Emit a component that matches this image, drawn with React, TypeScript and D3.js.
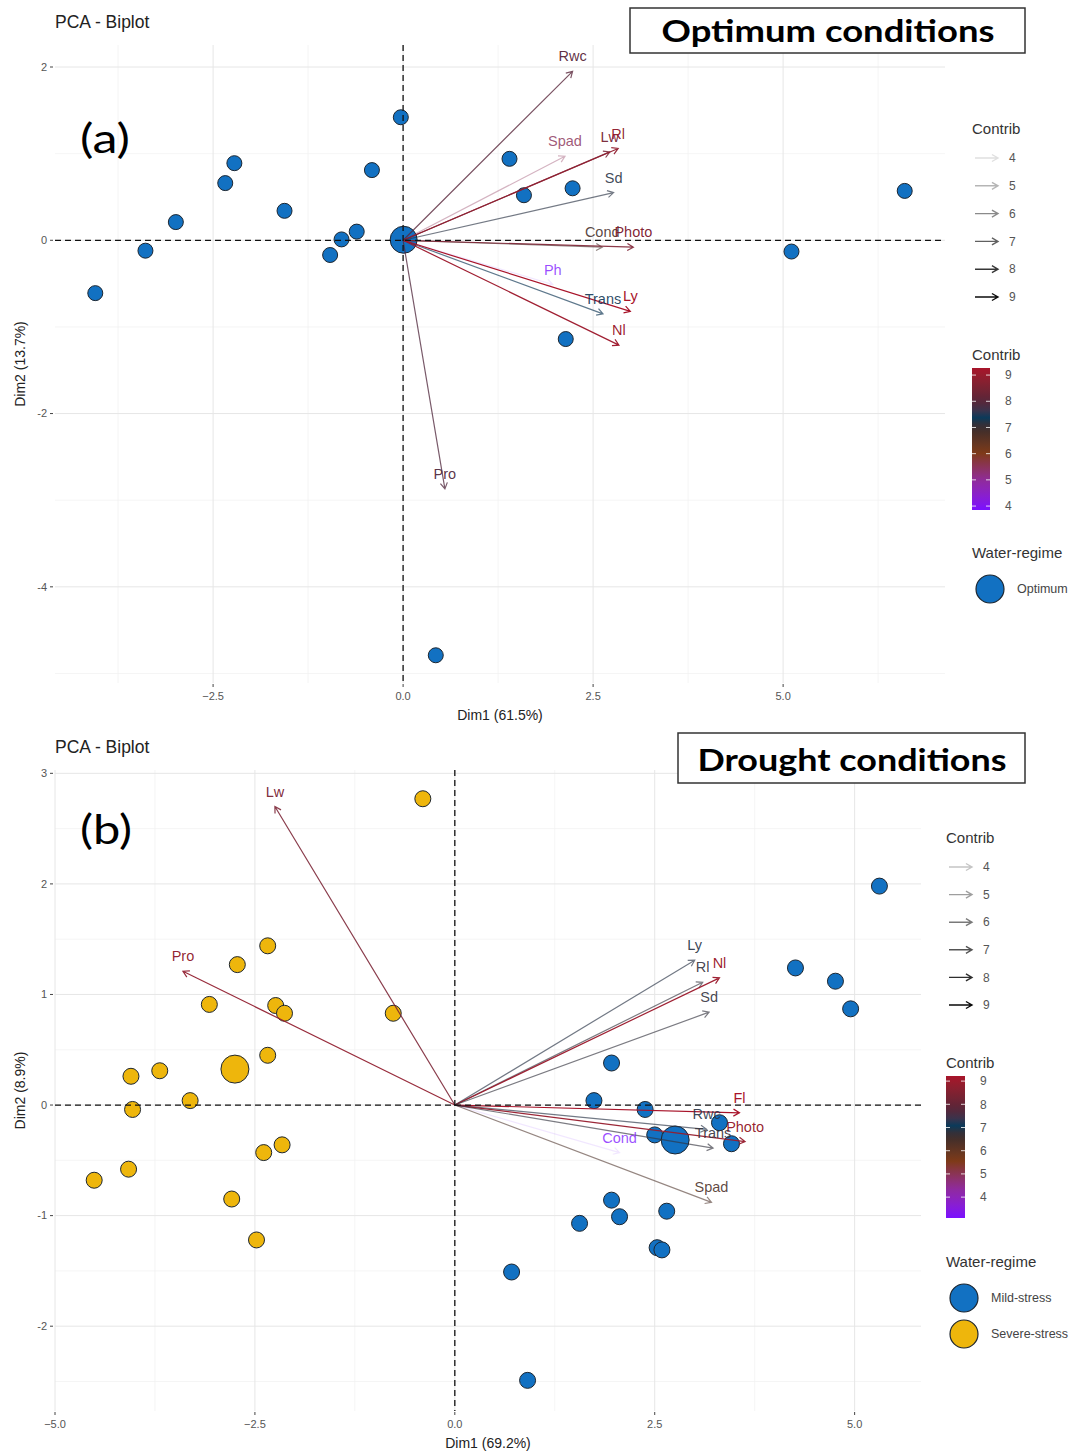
import React from "react";
import * as d3 from "d3";

const FONT = "'Liberation Sans', Arial, Helvetica, sans-serif";
const BOX_FONT = "Lato, 'Open Sans', 'DejaVu Sans', sans-serif";

// ---- (a) optimum conditions ----
const optIndDim1 = [-4.05, -3.39, -2.99, -2.34, -2.22, -1.56, -0.96, -0.81, -0.61, -0.41, -0.03, 1.4, 1.59, 2.23, 2.14, 5.11, 6.6, 0.43];
const optIndDim2 = [-0.61, -0.12, 0.21, 0.66, 0.89, 0.34, -0.17, 0.01, 0.1, 0.81, 1.42, 0.94, 0.52, 0.6, -1.14, -0.13, 0.57, -4.79];
const optVarNames = ["Rwc", "Spad", "Lw", "Rl", "Sd", "Cond", "Photo", "Ph", "Trans", "Ly", "Nl", "Pro"];
const optVarDim1 = [2.23, 2.13, 2.72, 2.83, 2.77, 2.62, 3.03, 1.97, 2.63, 2.99, 2.84, 0.55];
const optVarDim2 = [1.95, 0.97, 1.02, 1.06, 0.55, -0.08, -0.08, -0.51, -0.85, -0.82, -1.21, -2.87];
const optVarContrib = [8.0, 5.5, 8.45, 8.9, 7.2, 6.85, 8.6, 3.85, 7.35, 9.27, 9.1, 7.9];

// ---- (b) drought conditions ----
const mildIndDim1 = [5.31, 4.26, 4.76, 4.95, 1.96, 1.74, 2.38, 3.31, 2.5, 3.46, 1.96, 2.06, 2.65, 1.56, 2.53, 2.59, 0.71, 0.91];
const mildIndDim2 = [1.98, 1.24, 1.12, 0.87, 0.38, 0.04, -0.04, -0.16, -0.27, -0.35, -0.86, -1.01, -0.96, -1.07, -1.29, -1.31, -1.51, -2.49];
const severeIndDim1 = [-0.4, -2.34, -2.72, -3.07, -2.24, -2.13, -0.77, -4.05, -3.69, -4.03, -3.31, -2.34, -4.51, -4.08, -2.39, -2.16, -2.79, -2.48];
const severeIndDim2 = [2.77, 1.44, 1.27, 0.91, 0.9, 0.83, 0.83, 0.26, 0.31, -0.04, 0.04, 0.45, -0.68, -0.58, -0.43, -0.36, -0.85, -1.22];
const drVarNames = ["Lw", "Pro", "Ly", "Rl", "Nl", "Sd", "Fl", "Rwc", "Photo", "Trans", "Cond", "Spad"];
const drVarDim1 = [-2.25, -3.4, 3.0, 3.1, 3.31, 3.18, 3.56, 3.15, 3.63, 3.23, 2.06, 3.21];
const drVarDim2 = [2.7, 1.21, 1.31, 1.11, 1.15, 0.84, -0.07, -0.22, -0.33, -0.39, -0.43, -0.88];
const drVarContrib = [8.4, 8.8, 6.9, 6.8, 9.0, 6.8, 9.22, 6.9, 8.9, 6.8, 3.1, 6.4];

const contribLegend = [4, 5, 6, 7, 8, 9];
const gradStops = [0, 0.2, 0.4, 0.58, 0.65, 0.77, 1];
const gradColors = ["#7a10ff", "#8f2aa0", "#7e3a18", "#3a2c2c", "#0b3a5a", "#5a2438", "#a8142a"];

const BLUE = "#1271c2";
const YELLOW = "#eeb60c";

type Group = { name: string; fill: string; xs: number[]; ys: number[] };

function arrowD(x1: number, y1: number, x2: number, y2: number, len = 7) {
  const a = Math.atan2(y2 - y1, x2 - x1);
  const h = Math.PI / 6;
  const p = d3.path();
  p.moveTo(x1, y1);
  p.lineTo(x2, y2);
  p.moveTo(x2 - len * Math.cos(a - h), y2 - len * Math.sin(a - h));
  p.lineTo(x2, y2);
  p.lineTo(x2 - len * Math.cos(a + h), y2 - len * Math.sin(a + h));
  return p.toString();
}

function scalesFor(contrib: number[]) {
  const ext = d3.extent(contrib) as [number, number];
  const color = d3
    .scaleLinear<string>()
    .domain(gradStops.map((s) => ext[0] + s * (ext[1] - ext[0])))
    .range(gradColors)
    .interpolate(d3.interpolateLab);
  const alpha = d3.scaleLinear().domain(ext).range([0.1, 1]).clamp(true);
  return { ext, color, alpha };
}

const Biplot = (p: any) => {
  const x = d3.scaleLinear().domain(p.xDomain).range([p.left, p.right]);
  const y = d3.scaleLinear().domain(p.yDomain).range([p.bottom, p.top]);
  const { color, alpha } = scalesFor(p.varContrib);
  const fx = d3.format(".1f");
  return (
    <g fontFamily={FONT}>
      <text x={p.left} y={p.top - 17} fontSize={17.5} fill="#222">PCA - Biplot</text>
      {p.xMinor.map((v: number) => (
        <line key={"xm" + v} x1={x(v)} x2={x(v)} y1={p.top} y2={p.bottom} stroke="#f1f1f1" strokeWidth={0.7} />
      ))}
      {p.yMinor.map((v: number) => (
        <line key={"ym" + v} y1={y(v)} y2={y(v)} x1={p.left} x2={p.right} stroke="#f1f1f1" strokeWidth={0.7} />
      ))}
      {p.xTicks.map((v: number) => (
        <g key={"xt" + v}>
          <line x1={x(v)} x2={x(v)} y1={p.top} y2={p.bottom} stroke="#e6e6e6" strokeWidth={1} />
          <line x1={x(v)} x2={x(v)} y1={p.bottom + 1} y2={p.bottom + 4} stroke="#444" strokeWidth={1} />
          <text x={x(v)} y={p.bottom + 17} fontSize={11} fill="#555" textAnchor="middle">{fx(v)}</text>
        </g>
      ))}
      {p.yTicks.map((v: number) => (
        <g key={"yt" + v}>
          <line y1={y(v)} y2={y(v)} x1={p.left} x2={p.right} stroke="#e6e6e6" strokeWidth={1} />
          <line y1={y(v)} y2={y(v)} x1={p.left - 5} x2={p.left - 2} stroke="#444" strokeWidth={1} />
          <text x={p.left - 8} y={y(v)} dy="0.35em" fontSize={11} fill="#555" textAnchor="end">{v}</text>
        </g>
      ))}
      <text x={(p.left + p.right) / 2} y={p.bottom + 37} fontSize={14} fill="#222" textAnchor="middle">{p.xLabel}</text>
      <text transform={`translate(20,${(p.top + p.bottom) / 2}) rotate(-90)`} fontSize={14} fill="#222" textAnchor="middle" dy="0.35em">{p.yLabel}</text>
      {p.groups.map((g: Group) => (
        <g key={g.name}>
          {g.xs.map((v, i) => (
            <circle key={i} cx={x(v)} cy={y(g.ys[i])} r={p.ptR} fill={g.fill} stroke="#1d2630" strokeWidth={1} />
          ))}
          <circle cx={x(d3.mean(g.xs) as number)} cy={y(d3.mean(g.ys) as number)} r={p.meanR} fill={g.fill} stroke="#1d2630" strokeWidth={1} />
        </g>
      ))}
      {p.varNames.map((n: string, i: number) => {
        const c = p.varContrib[i];
        return (
          <path key={"a" + n} d={arrowD(x(0), y(0), x(p.varX[i]), y(p.varY[i]))} fill="none" stroke={color(c)} strokeOpacity={alpha(c)} strokeWidth={1.2} />
        );
      })}
      {p.varNames.map((n: string, i: number) => {
        const c = p.varContrib[i];
        return (
          <text key={"t" + n} x={x(p.varX[i])} y={y(p.varY[i]) - 15} dy="0.35em" textAnchor="middle" fontSize={14.5} fill={color(c)} fillOpacity={0.72 + 0.28 * alpha(c)}>{n}</text>
        );
      })}
      <line x1={p.left} x2={p.right} y1={y(0)} y2={y(0)} stroke="#111" strokeWidth={1.3} strokeDasharray="6,4" />
      <line x1={x(0)} x2={x(0)} y1={p.top} y2={p.bottom} stroke="#111" strokeWidth={1.3} strokeDasharray="6,4" />
    </g>
  );
};

const Legend = (p: any) => {
  const { ext, color, alpha } = scalesFor(p.varContrib);
  const by = d3.scaleLinear().domain(ext).range([p.barBottom, p.barTop]);
  const gid = "grad" + p.id;
  const gstops = d3.range(0, 1.0001, 0.05);
  return (
    <g fontFamily={FONT}>
      <defs>
        <linearGradient id={gid} x1="0" y1="1" x2="0" y2="0">
          {gstops.map((s) => (
            <stop key={s} offset={s} stopColor={color(ext[0] + s * (ext[1] - ext[0]))} />
          ))}
        </linearGradient>
      </defs>
      <text x={p.x} y={p.rowStart - 24} fontSize={15} fill="#333">Contrib</text>
      {contribLegend.map((v, i) => {
        const yy = p.rowStart + i * p.rowStep;
        return (
          <g key={"l" + v}>
            <path d={arrowD(p.x + 3, yy, p.x + 26, yy, 7)} fill="none" stroke="#000" strokeOpacity={alpha(v)} strokeWidth={1.4} />
            <text x={p.x + 37} y={yy} dy="0.35em" fontSize={12} fill="#555">{v}</text>
          </g>
        );
      })}
      <text x={p.x} y={p.barTop - 8} fontSize={15} fill="#333">Contrib</text>
      <rect x={p.x} y={p.barTop} width={p.barW} height={p.barBottom - p.barTop} fill={`url(#${gid})`} />
      {contribLegend.map((v) => (
        <g key={"b" + v}>
          <line x1={p.x} x2={p.x + 4} y1={by(v)} y2={by(v)} stroke="#fff" strokeWidth={1} strokeOpacity={0.8} />
          <line x1={p.x + p.barW - 4} x2={p.x + p.barW} y1={by(v)} y2={by(v)} stroke="#fff" strokeWidth={1} strokeOpacity={0.8} />
          <text x={p.x + p.barW + 15} y={by(v)} dy="0.35em" fontSize={12} fill="#555">{v}</text>
        </g>
      ))}
      <text x={p.x} y={p.waterTitle} fontSize={15} fill="#333">Water-regime</text>
      {p.groups.map((g: Group, i: number) => {
        const yy = p.waterTitle + 31 + i * 36;
        return (
          <g key={"w" + g.name}>
            <circle cx={p.x + 18} cy={yy} r={14} fill={g.fill} stroke="#1d2630" strokeWidth={1.2} />
            <text x={p.x + 45} y={yy} dy="0.35em" fontSize={12.5} fill="#444">{g.name}</text>
          </g>
        );
      })}
    </g>
  );
};

export default function App() {
  const optGroups: Group[] = [{ name: "Optimum", fill: BLUE, xs: optIndDim1, ys: optIndDim2 }];
  const drGroups: Group[] = [
    { name: "Mild-stress", fill: BLUE, xs: mildIndDim1, ys: mildIndDim2 },
    { name: "Severe-stress", fill: YELLOW, xs: severeIndDim1, ys: severeIndDim2 },
  ];
  return (
    <div style={{ position: "absolute", left: 0, top: 0 }}>
      <svg width={1082} height={1452} style={{ display: "block", background: "#fff" }}>
        <Biplot
          left={55} right={945} top={45} bottom={683}
          xDomain={[-4.58, 7.13]} yDomain={[-5.11, 2.254]}
          xTicks={[-2.5, 0, 2.5, 5]} xMinor={[-3.75, -1.25, 1.25, 3.75, 6.25]}
          yTicks={[-4, -2, 0, 2]} yMinor={[-5, -3, -1, 1]}
          xLabel="Dim1 (61.5%)" yLabel="Dim2 (13.7%)"
          groups={optGroups}
          varNames={optVarNames} varX={optVarDim1} varY={optVarDim2} varContrib={optVarContrib}
          ptR={7.5} meanR={13.5}
        />
        <Legend id="a" x={972} rowStart={158} rowStep={27.8} barTop={368} barBottom={510} barW={18} waterTitle={558} varContrib={optVarContrib} groups={optGroups} />
        <Biplot
          left={55} right={921} top={770} bottom={1411}
          xDomain={[-5.0, 5.83]} yDomain={[-2.767, 3.03]}
          xTicks={[-5, -2.5, 0, 2.5, 5]} xMinor={[-3.75, -1.25, 1.25, 3.75]}
          yTicks={[-2, -1, 0, 1, 2, 3]} yMinor={[-2.5, -1.5, -0.5, 0.5, 1.5, 2.5]}
          xLabel="Dim1 (69.2%)" yLabel="Dim2 (8.9%)"
          groups={drGroups}
          varNames={drVarNames} varX={drVarDim1} varY={drVarDim2} varContrib={drVarContrib}
          ptR={8} meanR={14}
        />
        <Legend id="b" x={946} rowStart={867} rowStep={27.6} barTop={1076} barBottom={1218} barW={19} waterTitle={1267} varContrib={drVarContrib} groups={drGroups} />

        <g fontFamily={BOX_FONT}>
          <rect x={630} y={8} width={395} height={45} fill="#fff" stroke="#333" strokeWidth={1.5} />
          <text x={828} y={42} fontSize={31} fontWeight="bold" textAnchor="middle" textLength={333} lengthAdjust="spacingAndGlyphs" fill="#000">Optimum conditions</text>
          <rect x={678} y={733} width={347} height={50} fill="#fff" stroke="#333" strokeWidth={1.5} />
          <text x={852} y={771} fontSize={31} fontWeight="bold" textAnchor="middle" textLength={309} lengthAdjust="spacingAndGlyphs" fill="#000">Drought conditions</text>
          <text x={80} y={153} fontSize={40} textLength={50} lengthAdjust="spacingAndGlyphs" fill="#000">(a)</text>
          <text x={80} y={844} fontSize={40} textLength={52} lengthAdjust="spacingAndGlyphs" fill="#000">(b)</text>
        </g>
      </svg>
    </div>
  );
}
